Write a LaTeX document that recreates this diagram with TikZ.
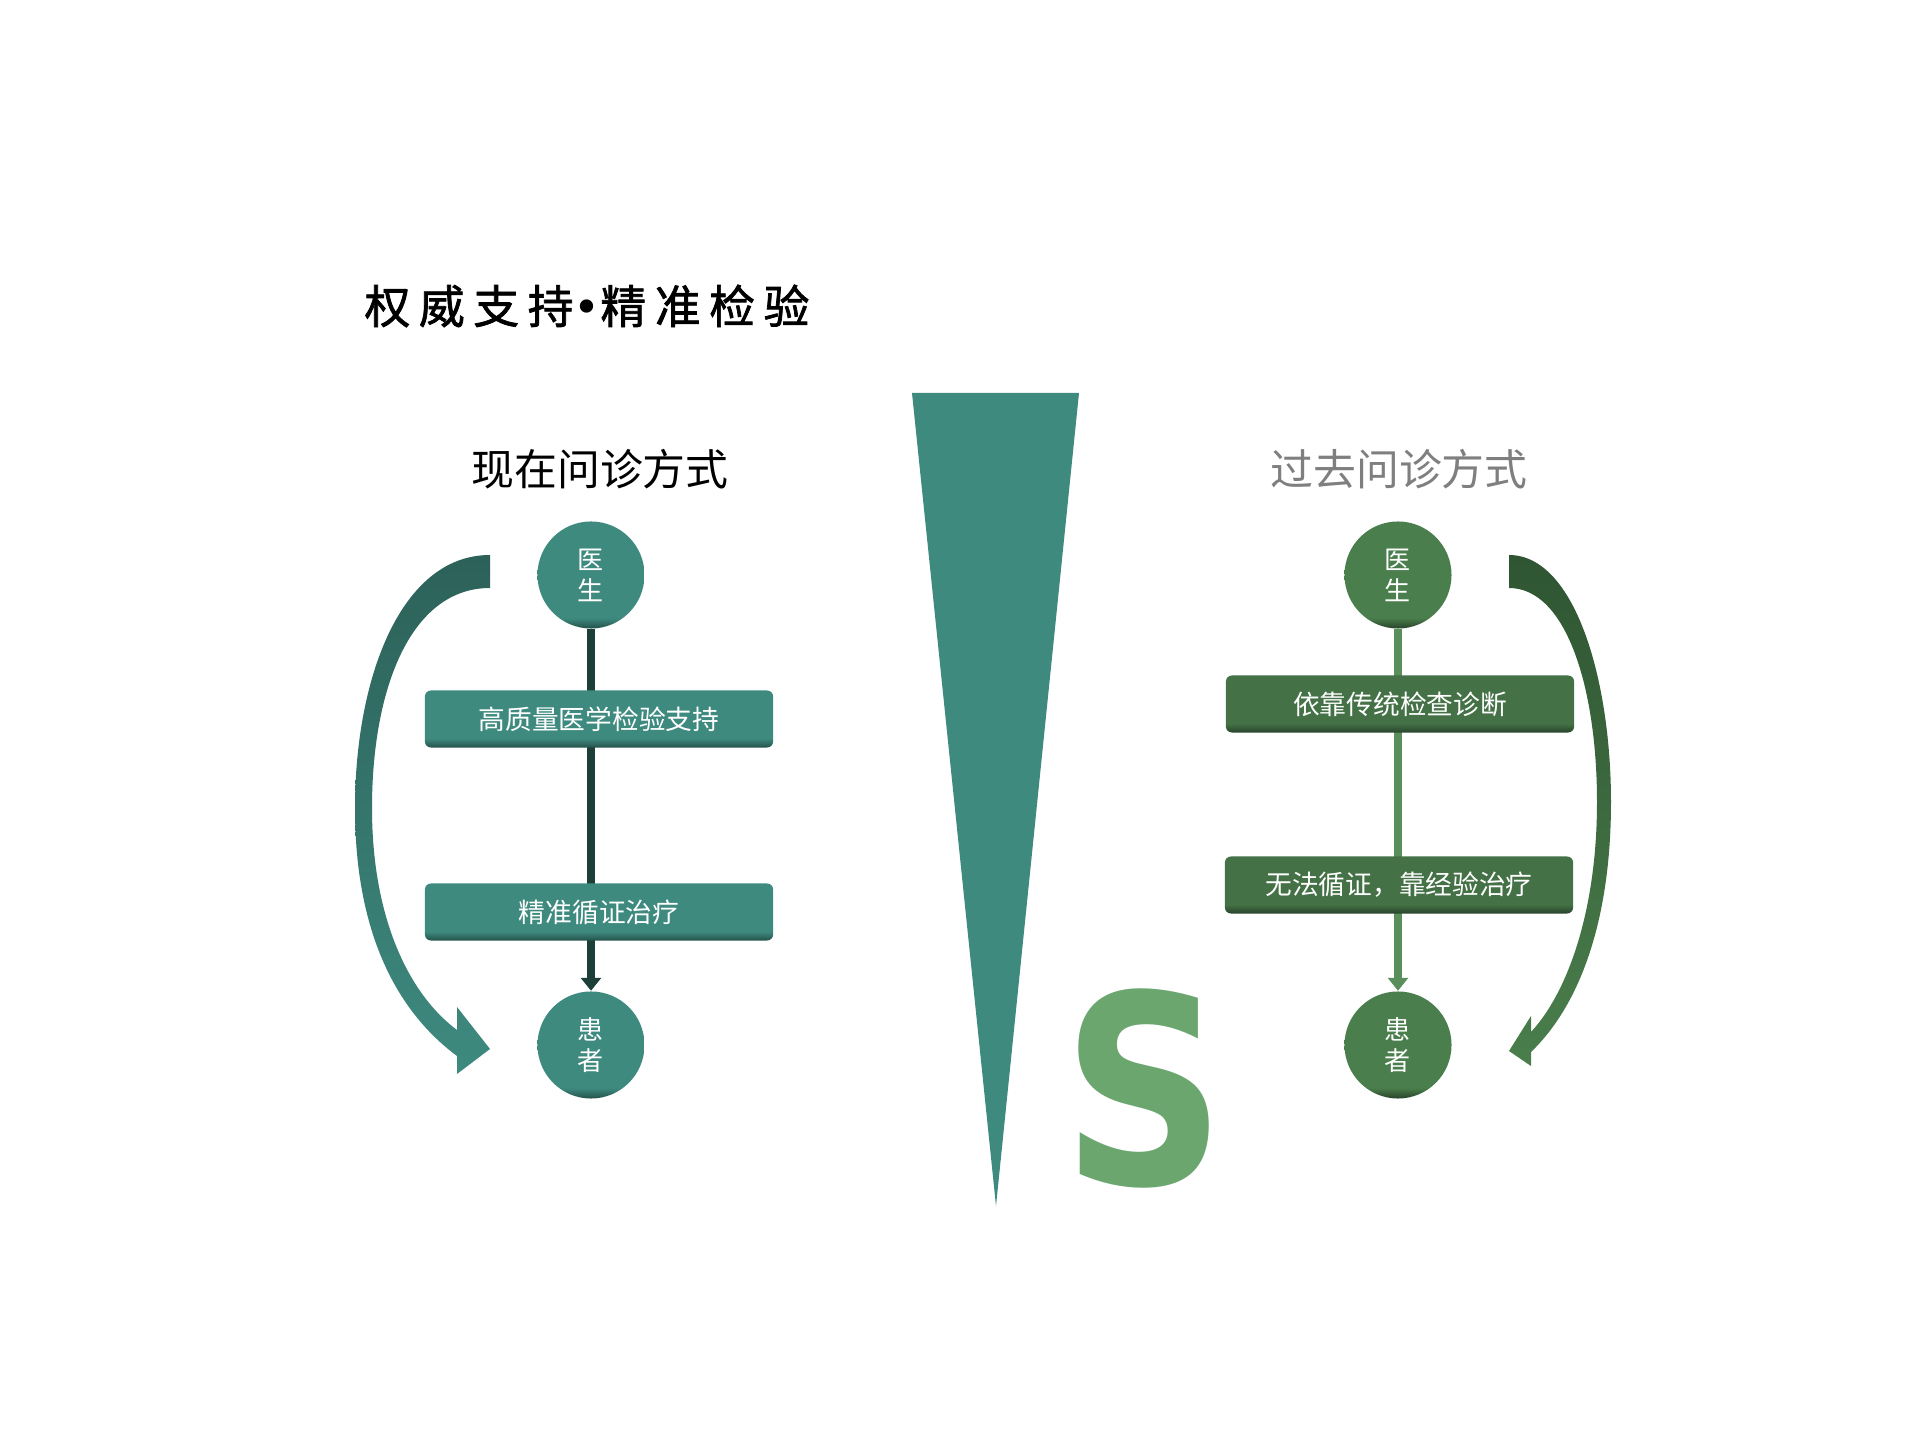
\documentclass[tikz,border=0pt]{standalone}
\usepackage{fontspec}
\setmainfont{Noto Sans CJK SC}
\newfontfamily\bigsfont{DejaVu Sans}
\usetikzlibrary{arrows.meta,positioning}

\definecolor{tealmain}{HTML}{3E8A7F}
\definecolor{tealdark}{HTML}{24524B}
\definecolor{tealarc}{HTML}{2C6159}
\definecolor{tealline}{HTML}{1C3F3A}
\definecolor{grnmain}{HTML}{4A7E4C}
\definecolor{grnbox}{HTML}{447146}
\definecolor{grndark}{HTML}{27442A}
\definecolor{grnarc}{HTML}{2F5532}
\definecolor{grnline}{HTML}{5A8F5B}
\definecolor{grnS}{HTML}{6BA66F}
\definecolor{subgray}{HTML}{7F7F7F}

\pgfdeclareverticalshading{tealbox}{100bp}{color(0bp)=(tealdark); color(25bp)=(tealdark); color(33bp)=(tealmain); color(100bp)=(tealmain)}
\pgfdeclareverticalshading{tealdot}{100bp}{color(0bp)=(tealdark); color(25bp)=(tealdark); color(30bp)=(tealmain); color(100bp)=(tealmain)}
\pgfdeclareverticalshading{grnboxshade}{100bp}{color(0bp)=(grndark); color(25bp)=(grndark); color(33bp)=(grnbox); color(100bp)=(grnbox)}
\pgfdeclareverticalshading{grndot}{100bp}{color(0bp)=(grndark); color(25bp)=(grndark); color(30bp)=(grnmain); color(100bp)=(grnmain)}

\begin{document}
\begin{tikzpicture}[
    x=0.01cm, y=-0.01cm,
    endpt/.style={
        circle, minimum size=1.07cm, inner sep=0pt,
        align=center, text=white,
        font=\fontsize{7.4pt}{8.8pt}\selectfont
    },
    flowbox/.style={
        rectangle, rounded corners=0.06cm,
        minimum width=3.48cm, minimum height=0.57cm, inner sep=0pt,
        text=white, font=\fontsize{7.6pt}{9pt}\selectfont
    },
    heading/.style={font=\fontsize{12.2pt}{14pt}\selectfont},
    nowline/.style={draw=tealline, line width=0.08cm, -{Triangle[length=0.13cm,width=0.2cm]}},
    pastline/.style={draw=grnline, line width=0.08cm, -{Triangle[length=0.13cm,width=0.2cm]}}
]
    \useasboundingbox (0,0) rectangle (1920,1440);

    % Title
    \node[font=\fontsize{13pt}{15pt}\selectfont\addfontfeature{LetterSpace=19,FakeBold=1.6}] (title) at (587,306)
        {权威支持{\bigsfont\addfontfeature{LetterSpace=19}•}精准检验};

    % Headings
    \node[heading] (nowhead) at (600,469) {现在问诊方式};
    \node[heading, text=subgray] (pasthead) at (1399,469) {过去问诊方式};

    % Middle wedge and S
    \fill[tealmain] (912,393) -- (1079,393) -- (996,1206) -- cycle;
    \node[font=\bigsfont\bfseries\fontsize{75pt}{80pt}\selectfont, text=grnS, inner sep=0pt] (bigS) at (1144,1088) {\scalebox{0.86}[1]{S}};

    % Nodes, left
    \node[endpt, shading=tealdot] (docL) at (591,575) {医\\生};
    \node[endpt, shading=tealdot] (patL) at (591,1045) {患\\者};

    % Nodes, right
    \node[endpt, shading=grndot] (docR) at (1398,575) {医\\生};
    \node[endpt, shading=grndot] (patR) at (1398,1045) {患\\者};

    % Connections
    \draw[nowline] (docL) -- (patL);
    \draw[pastline] (docR) -- (patR);

    % Boxes on the lines
    \node[flowbox, shading=tealbox] (labL) at (599,719) {高质量医学检验支持};
    \node[flowbox, shading=tealbox] (evidL) at (599,912) {精准循证治疗};
    \node[flowbox, shading=grnboxshade] (tradR) at (1400,704) {依靠传统检查诊断};
    \node[flowbox, shading=grnboxshade] (expR) at (1399,885) {无法循证，靠经验治疗};

    % Curved arrows
    \shade[top color=tealarc, bottom color=tealmain]
        (490,555) .. controls (400,555) and (355,680) .. (355,808)
        .. controls (355,930) and (395,1010) .. (457,1056)
        -- (457,1074) -- (490,1049) -- (457,1007) -- (457,1030)
        .. controls (410,995) and (372,920) .. (372,808)
        .. controls (372,690) and (410,588) .. (490,588) -- cycle;
    \shade[top color=grnarc, bottom color=grnmain]
        (1509,555) .. controls (1575,555) and (1611,680) .. (1611,802)
        .. controls (1611,920) and (1580,1005) .. (1531,1052)
        -- (1531,1066) -- (1509,1051) -- (1531,1016) -- (1531,1032)
        .. controls (1568,992) and (1597,910) .. (1597,802)
        .. controls (1597,690) and (1567,588) .. (1509,588) -- cycle;
\end{tikzpicture}
\end{document}
